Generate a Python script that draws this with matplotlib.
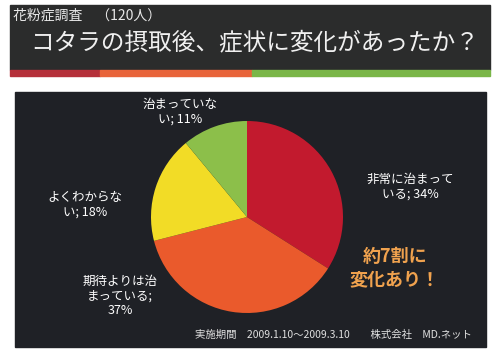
import matplotlib.pyplot as plt
from matplotlib.patches import Rectangle

plt.rcParams['font.family'] = ['Noto Sans CJK JP', 'DejaVu Sans']

# survey data
categories = ['非常に治まっている', '期待よりは治まっている', 'よくわからない', '治まっていない']
shares = [34, 37, 18, 11]
label_lines = ['非常に治まって\nいる; {}%', '期待よりは治\nまっている;\n{}%',
               'よくわからな\nい; {}%', '治まっていな\nい; {}%']
colors = ['#c21a2e', '#ea5a2c', '#f2dc26', '#8cbf4a']

W, H = 500, 353
fig = plt.figure(figsize=(W / 100, H / 100), dpi=100)
fig.patch.set_facecolor('white')

# overlay axes in pixel coordinates
bg = fig.add_axes([0, 0, 1, 1])
bg.set_xlim(0, W)
bg.set_ylim(H, 0)
bg.axis('off')

# header bar
bg.add_patch(Rectangle((10, 5), 480, 65, color='#2b2c2c'))
bg.add_patch(Rectangle((10, 70), 90, 6, color='#b5303a'))
bg.add_patch(Rectangle((100, 70), 152, 6, color='#e8643a'))
bg.add_patch(Rectangle((252, 70), 238, 6, color='#7ab648'))
bg.text(13, 16, '花粉症調査　（120人）', color='#e8e8e8', fontsize=10, va='center')
bg.text(255, 43, 'コタラの摂取後、症状に変化があったか？', color='#f0f0f0',
        fontsize=17, va='center', ha='center')

# chart panel
bg.add_patch(Rectangle((15, 92), 471, 255, color='#1f2126'))

# pie
cx, cy, r = 247, 217, 96
pie_ax = fig.add_axes([(cx - r) / W, (H - cy - r) / H, 2 * r / W, 2 * r / H])
pie_ax.pie(shares, colors=colors, startangle=90, counterclock=False,
           wedgeprops=dict(linewidth=0))
pie_ax.set_xlim(-1, 1)
pie_ax.set_ylim(-1, 1)
pie_ax.set_aspect('equal')
pie_ax.axis('off')

label_pos = [(410, 187), (120, 296), (85, 205), (180, 112)]
for (x, y), fmt, v in zip(label_pos, label_lines, shares):
    bg.text(x, y, fmt.format(v), color='white', fontsize=9, ha='center',
            va='center', linespacing=1.15)

bg.text(395, 268, '約7割に\n変化あり！', color='#f0a24e', fontsize=13,
        fontweight='bold', ha='center', va='center', linespacing=1.25)

bg.text(333, 335, '実施期間　2009.1.10～2009.3.10　　株式会社　MD.ネット',
        color='#e0e0e0', fontsize=7.5, ha='center', va='center')

fig.savefig('out.png', dpi=100, facecolor='white')
